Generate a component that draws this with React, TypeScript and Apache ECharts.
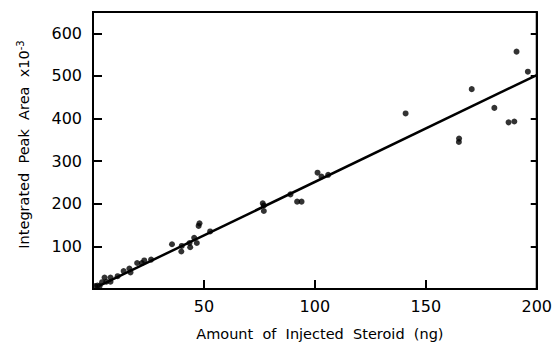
import React, { useEffect, useRef } from "react";
import * as echarts from "echarts";

// Injected steroid amount (ng) and integrated peak area (x10^-3)
const amountNg = [
  1, 2, 3, 4.1, 5.2, 6, 7.9, 7.9, 11.1, 13.8, 16.4, 16.9, 19.9, 22, 23.1, 26.2,
  35.6, 39.8, 40, 43.5, 43.8, 45.6, 46.8, 47.6, 48, 52.8, 76.5, 77, 77,
  89, 92, 94, 101.2, 103, 106, 140.9, 164.9, 165, 170.7, 180.9, 187.3, 189.9,
  190.9, 196,
];
const peakArea = [
  7, 8, 7, 16, 27, 17, 17, 27, 30, 42, 48, 39, 61, 61, 67, 69,
  105, 88, 101, 108, 98, 120, 108, 148, 154, 135, 201, 196, 183,
  222, 205, 205, 273, 264, 268, 412, 345, 353, 469, 425, 391, 393,
  557, 510,
];

// Least-squares fit line endpoints
const fitX = [3, 200];
const fitY = [8, 502];

const yTicks = [100, 200, 300, 400, 500, 600];
const xTicks = [50, 100, 150, 200];

const FONT = "DejaVu Sans";

export default function App() {
  const ref = useRef<HTMLDivElement>(null);

  useEffect(() => {
    if (!ref.current) return;
    const chart = echarts.init(ref.current, undefined, { renderer: "svg" });
    const points = amountNg.map((x, i) => [x, peakArea[i]]);
    const fit = fitX.map((x, i) => [x, fitY[i]]);

    chart.setOption({
      animation: false,
      backgroundColor: "#ffffff",
      grid: {
        left: 93,
        right: 17,
        top: 12,
        bottom: 50,
        show: true,
        borderColor: "#000",
        borderWidth: 2,
      },
      xAxis: {
        type: "value",
        min: 0,
        max: 200,
        interval: 50,
        name: "Amount  of  Injected  Steroid  (ng)",
        nameLocation: "middle",
        nameGap: 37,
        nameTextStyle: { fontFamily: FONT, fontSize: 14.5, color: "#000", padding: [0, 0, 0, 10] },
        axisLine: { show: true, lineStyle: { color: "#000", width: 2 } },
        axisTick: { show: true, inside: true, length: 9, lineStyle: { color: "#000", width: 2 } },
        axisLabel: {
          fontFamily: FONT,
          fontSize: 16,
          color: "#000",
          margin: 9,
          formatter: (v: number) => (xTicks.includes(v) ? String(v) : ""),
        },
        splitLine: { show: false },
      },
      yAxis: [
        {
          type: "value",
          min: 0,
          max: 650,
          interval: 100,
          name: "Integrated  Peak  Area  x10{sup|-3}",
          nameLocation: "middle",
          nameRotate: 90,
          nameGap: 60,
          nameTextStyle: {
            fontFamily: FONT,
            fontSize: 14.5,
            color: "#000",
            padding: [0, 0, 0, 12],
            rich: {
              sup: { fontFamily: FONT, fontSize: 10, color: "#000", verticalAlign: "top", padding: [0, 0, 8, 0] },
            },
          },
          axisLine: { show: true, lineStyle: { color: "#000", width: 2 } },
          axisTick: { show: true, inside: true, length: 9, lineStyle: { color: "#000", width: 2 } },
          axisLabel: {
            fontFamily: FONT,
            fontSize: 16,
            color: "#000",
            margin: 11,
            formatter: (v: number) => (yTicks.includes(v) ? String(v) : ""),
          },
          splitLine: { show: false },
        },
        {
          type: "value",
          position: "right",
          min: 0,
          max: 650,
          interval: 100,
          axisLine: { show: true, lineStyle: { color: "#000", width: 2 } },
          axisTick: { show: true, inside: true, length: 6, lineStyle: { color: "#000", width: 2 } },
          axisLabel: { show: false },
          splitLine: { show: false },
        },
      ],
      series: [
        {
          type: "line",
          data: fit,
          symbol: "none",
          lineStyle: { color: "#000", width: 2.5 },
          z: 2,
        },
        {
          type: "scatter",
          data: points,
          symbol: "circle",
          symbolSize: 6,
          itemStyle: { color: "#000" },
          z: 3,
        },
      ],
    });

    return () => chart.dispose();
  }, []);

  return (
    <div
      ref={ref}
      style={{ position: "absolute", left: 0, top: 0, width: 555, height: 346 }}
    />
  );
}
